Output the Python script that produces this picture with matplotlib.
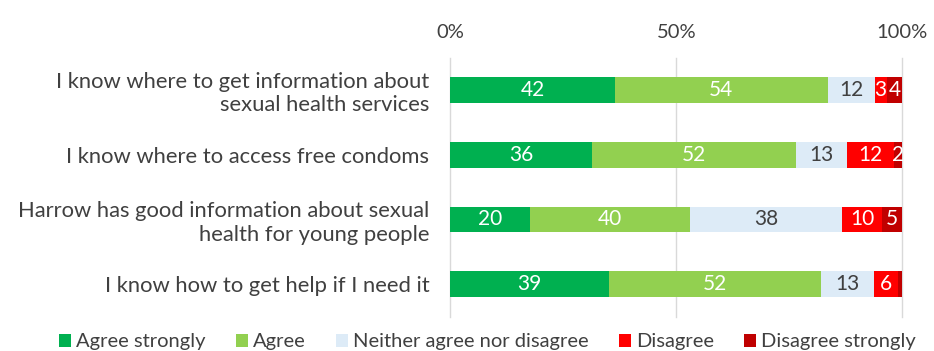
import matplotlib.pyplot as plt
import numpy as np

statements = [
    "I know where to get information about\nsexual health services",
    "I know where to access free condoms",
    "Harrow has good information about sexual\nhealth for young people",
    "I know how to get help if I need it",
]
responses = ["Agree strongly", "Agree", "Neither agree nor disagree",
             "Disagree", "Disagree strongly"]
counts = np.array([
    [42, 54, 12, 3, 4],
    [36, 52, 13, 12, 2],
    [20, 40, 38, 10, 5],
    [39, 52, 13, 6, 1],
])
show_label = np.array([
    [True, True, True, True, True],
    [True, True, True, True, True],
    [True, True, True, True, True],
    [True, True, True, True, False],
])
colors = ["#00B050", "#92D050", "#DDEBF7", "#FF0000", "#C00000"]
text_colors = ["white", "white", "#404040", "white", "white"]
ticks = [0, 50, 100]
tick_labels = ["0%", "50%", "100%"]

plt.rcParams["font.family"] = ["Lato", "DejaVu Sans"]

shares = counts / counts.sum(axis=1, keepdims=True) * 100
y = np.arange(len(statements))

fig = plt.figure(figsize=(9.34, 3.51), dpi=100)
ax = fig.add_axes([0.482, 0.098, 0.484, 0.738])

left = np.zeros(len(statements))
for j, name in enumerate(responses):
    ax.barh(y, shares[:, j], left=left, height=0.4, color=colors[j],
            label=name, zorder=2)
    for i in range(len(statements)):
        if show_label[i, j]:
            ax.text(left[i] + shares[i, j] / 2, y[i], str(counts[i, j]),
                    ha="center", va="center", color=text_colors[j],
                    fontsize=15, zorder=3)
    left += shares[:, j]

ax.set_xlim(0, 100)
ax.set_ylim(len(statements) - 0.5, -0.5)
ax.set_yticks(y)
ax.set_yticklabels(statements, fontsize=15.8, color="#404040", linespacing=1.2)
ax.set_xticks(ticks)
ax.set_xticklabels(tick_labels, fontsize=14.5, color="#404040")
ax.xaxis.tick_top()
ax.tick_params(axis="y", length=0, pad=15)
ax.tick_params(axis="x", length=0, pad=12)
ax.grid(axis="x", color="#D9D9D9", linewidth=1, zorder=0, clip_on=False)
for s in ax.spines.values():
    s.set_visible(False)

fig.legend(loc="lower center", ncol=5, bbox_to_anchor=(0.522, -0.05),
           frameon=False, fontsize=14.5, handlelength=0.6, handleheight=0.6,
           handletextpad=0.25, columnspacing=1.5, labelcolor="#404040")

fig.savefig("out.png", dpi=100)
